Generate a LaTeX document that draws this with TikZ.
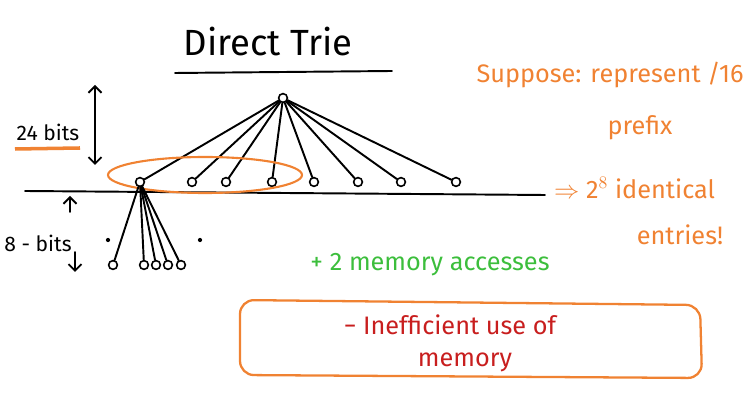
\documentclass[tikz,border=0pt]{standalone}
\usepackage{fontspec}
\setmainfont{Fira Sans}
\usetikzlibrary{arrows.meta}
\definecolor{penorange}{RGB}{240,130,50}
\definecolor{pengreen}{RGB}{60,190,60}
\definecolor{penred}{RGB}{200,30,30}
\tikzset{
  ink/.style={line width=1.1pt, line cap=round},
  tnode/.style={circle, draw, line width=0.9pt, inner sep=0pt, minimum size=5pt},
  orangetext/.style={text=penorange, font=\Large},
}
\begin{document}
\begin{tikzpicture}[x=0.02cm, y=-0.02cm]
  \useasboundingbox (0,0) rectangle (750,401);
  % title
  \node[font=\huge] (title) at (268,42) {Direct Trie};
  \draw[ink] (175,73) -- (392,71);
  % trie
  \node[tnode] (root) at (283,98) {};
  \foreach \x [count=\i] in {140,192,226,272,314,358,401,456}
    \node[tnode] (n\i) at (\x,182) {};
  \foreach \i in {1,...,8}
    \draw[ink] (root) -- (n\i);
  \draw[ink] (25,191) -- (545,195);
  \draw[penorange, line width=1.2pt] (205,175) ellipse (97 and 18);
  % leaves
  \foreach \x [count=\i] in {113,144,156,168,181}
    \node[tnode] (l\i) at (\x,265) {};
  \foreach \i in {1,...,5}
    \draw[ink] (n1) -- (l\i);
  \fill (108,240) circle (1.2pt);
  \fill (200,240) circle (1.2pt);
  % bit labels
  \coordinate (ta) at (95,85);
  \coordinate (tb) at (95,165);
  \draw[ink, {Straight Barb}-{Straight Barb}] (ta) -- (tb);
  \node[font=\large] (bits24) at (48,132) {24 bits};
  \draw[penorange, line width=2pt] (15,149) -- (80,148);
  \coordinate (ua) at (70,212);
  \coordinate (ub) at (70,196);
  \draw[ink, -{Straight Barb}] (ua) -- (ub);
  \node[font=\large] (bits8) at (38,243) {8 - bits};
  \coordinate (da) at (75,252);
  \coordinate (db) at (75,272);
  \draw[ink, -{Straight Barb}] (da) -- (db);
  % notes
  \node[text=pengreen, font=\Large] (plus) at (430,265) {+ 2 memory accesses};
  \draw[penorange, line width=1.3pt, rounded corners=8pt] (240,300) -- (700,305) -- (702,378) -- (240,375) -- cycle;
  \node[text=penred, font=\Large] (minus) at (450,325) {− Inefficient use of};
  \node[text=penred, font=\Large] (mem) at (465,362) {memory};
  \node[orangetext] (sup) at (610,75) {Suppose: represent /16};
  \node[orangetext] (pre) at (640,128) {prefix};
  \node[orangetext, anchor=west] (ident) at (548,188) {$\Rightarrow$ 2$^{8}$ identical};
  \node[orangetext] (ent) at (680,235) {entries!};
\end{tikzpicture}
\end{document}
